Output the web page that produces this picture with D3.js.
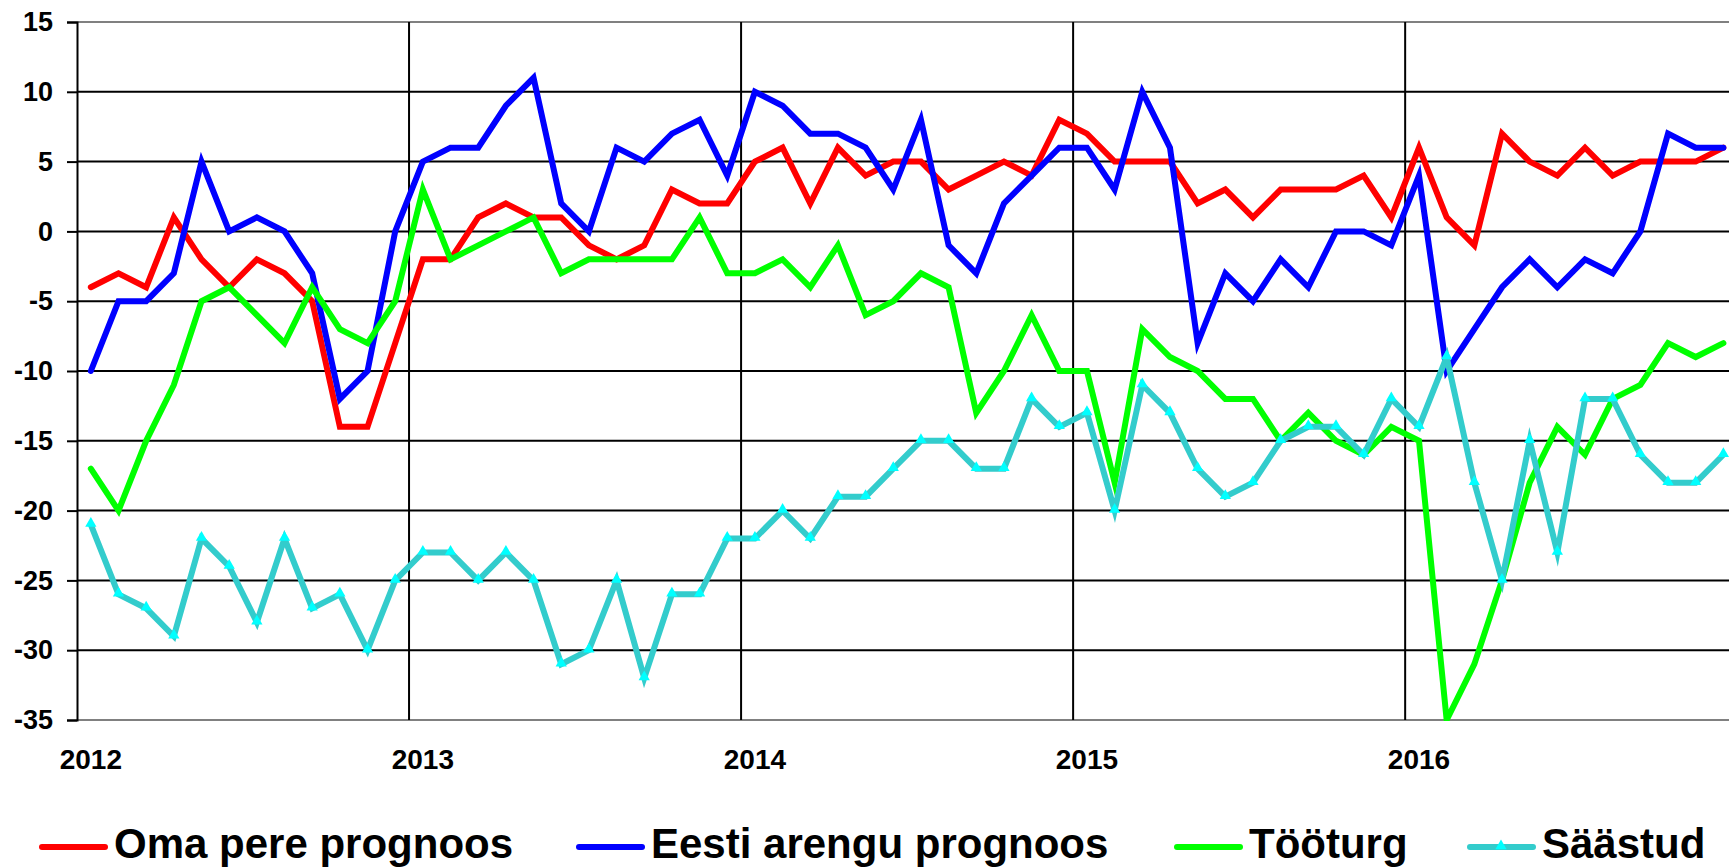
<!DOCTYPE html>
<html>
<head>
<meta charset="utf-8">
<script src="https://cdn.jsdelivr.net/npm/d3@7"></script>
<style>
  html, body { margin: 0; padding: 0; background: #fff; }
  svg { display: block; font-family: Arial, "Liberation Sans", sans-serif; }
</style>
</head>
<body>
<svg id="chart" width="1729" height="868"></svg>
<script>
// survey balances, monthly Jan 2012 .. Dec 2016
const years = ["2012", "2013", "2014", "2015", "2016"];
const yTicks = [15, 10, 5, 0, -5, -10, -15, -20, -25, -30, -35];

const omaPere = [-4, -3, -4, 1, -2, -4, -2, -3, -5, -14, -14, -8,
  -2, -2, 1, 2, 1, 1, -1, -2, -1, 3, 2, 2,
  5, 6, 2, 6, 4, 5, 5, 3, 4, 5, 4, 8,
  7, 5, 5, 5, 2, 3, 1, 3, 3, 3, 4, 1,
  6, 1, -1, 7, 5, 4, 6, 4, 5, 5, 5, 6];

const eestiArengu = [-10, -5, -5, -3, 5, 0, 1, 0, -3, -12, -10, 0,
  5, 6, 6, 9, 11, 2, 0, 6, 5, 7, 8, 4,
  10, 9, 7, 7, 6, 3, 8, -1, -3, 2, 4, 6,
  6, 3, 10, 6, -8, -3, -5, -2, -4, 0, 0, -1,
  4, -10, -7, -4, -2, -4, -2, -3, 0, 7, 6, 6];

const tooturg = [-17, -20, -15, -11, -5, -4, -6, -8, -4, -7, -8, -5,
  3, -2, -1, 0, 1, -3, -2, -2, -2, -2, 1, -3,
  -3, -2, -4, -1, -6, -5, -3, -4, -13, -10, -6, -10,
  -10, -18, -7, -9, -10, -12, -12, -15, -13, -15, -16, -14,
  -15, -35, -31, -25, -18, -14, -16, -12, -11, -8, -9, -8];

const saastud = [-21, -26, -27, -29, -22, -24, -28, -22, -27, -26, -30, -25,
  -23, -23, -25, -23, -25, -31, -30, -25, -32, -26, -26, -22,
  -22, -20, -22, -19, -19, -17, -15, -15, -17, -17, -12, -14,
  -13, -20, -11, -13, -17, -19, -18, -15, -14, -14, -16, -12,
  -14, -9, -18, -25, -15, -23, -12, -12, -16, -18, -18, -16];

const seriesNames = ["Oma pere prognoos", "Eesti arengu prognoos", "Tööturg", "Säästud"];
const seriesColors = ["#ff0000", "#0000ff", "#00ff00", "#33cccc"];

// month categories built from the years
const months = [];
years.forEach(yr => d3.range(12).forEach(m => months.push(yr + "-" + (m + 1))));

const series = [omaPere, eestiArengu, tooturg, saastud].map((values, i) => ({
  name: seriesNames[i],
  color: seriesColors[i],
  values: values
}));

const svg = d3.select("#chart");
const plotLeft = 77, plotTop = 22, plotBottom = 720;
const plotRight = plotLeft + 60 * 27.67;

const x = d3.scaleBand().domain(months).range([plotLeft, plotRight]);
const y = d3.scaleLinear().domain([-35, 15]).range([plotBottom, plotTop]);
const xc = d => x(d) + x.bandwidth() / 2;

// horizontal gridlines
svg.append("g")
  .selectAll("line")
  .data(yTicks)
  .enter().append("line")
  .attr("x1", plotLeft)
  .attr("x2", plotRight)
  .attr("y1", d => y(d))
  .attr("y2", d => y(d))
  .attr("stroke", d => (d === 15 || d === -35) ? "#808080" : "#000")
  .attr("stroke-width", 2);

// year separators
svg.append("g")
  .selectAll("line")
  .data(years.slice(1))
  .enter().append("line")
  .attr("x1", d => x(d + "-1"))
  .attr("x2", d => x(d + "-1"))
  .attr("y1", plotTop)
  .attr("y2", plotBottom)
  .attr("stroke", "#000")
  .attr("stroke-width", 2);

// y axis (plain hyphen for negatives, like the original)
const yAxis = svg.append("g")
  .attr("transform", `translate(${plotLeft},0)`)
  .call(d3.axisLeft(y).tickValues(yTicks).tickSize(10).tickPadding(14)
    .tickFormat(d => String(d)));
yAxis.select(".domain").attr("stroke", "#000").attr("stroke-width", 2);
yAxis.selectAll(".tick line").attr("stroke", "#000").attr("stroke-width", 2);
yAxis.selectAll(".tick text")
  .attr("font-size", 27)
  .attr("font-weight", "bold")
  .attr("font-family", "Arial, 'Liberation Sans', sans-serif")
  .attr("fill", "#000");

// year labels under the first month of each year
svg.append("g")
  .selectAll("text")
  .data(years)
  .enter().append("text")
  .attr("x", d => xc(d + "-1"))
  .attr("y", 769)
  .attr("text-anchor", "middle")
  .attr("font-size", 28)
  .attr("font-weight", "bold")
  .text(d => d);

svg.append("clipPath")
  .attr("id", "plotClip")
  .append("rect")
  .attr("x", plotLeft)
  .attr("y", plotTop - 4)
  .attr("width", plotRight - plotLeft)
  .attr("height", plotBottom - plotTop + 5);

const line = d3.line()
  .x((d, i) => xc(months[i]))
  .y(d => y(d));

const plot = svg.append("g").attr("clip-path", "url(#plotClip)");

plot.selectAll("path.series")
  .data(series)
  .enter().append("path")
  .attr("class", "series")
  .attr("d", d => line(d.values))
  .attr("fill", "none")
  .attr("stroke", d => d.color)
  .attr("stroke-width", 6)
  .attr("stroke-linejoin", "miter")
  .attr("stroke-miterlimit", 10)
  .attr("stroke-linecap", "round");

// triangle markers on Säästud
const tri = d3.symbol().type(d3.symbolTriangle).size(55);
plot.append("g")
  .selectAll("path")
  .data(saastud)
  .enter().append("path")
  .attr("d", tri)
  .attr("transform", (d, i) => `translate(${xc(months[i])},${y(d) - 1})`)
  .attr("fill", "#00ffff");

// legend
const legendX = [42, 579, 1177, 1470];
const legend = svg.append("g")
  .selectAll("g")
  .data(series)
  .enter().append("g")
  .attr("transform", (d, i) => `translate(${legendX[i]},847)`);

legend.append("line")
  .attr("x1", 0)
  .attr("x2", 63)
  .attr("stroke", d => d.color)
  .attr("stroke-width", 6)
  .attr("stroke-linecap", "round");

legend.filter((d, i) => i === 3).append("path")
  .attr("d", tri)
  .attr("transform", "translate(31,-1)")
  .attr("fill", "#00ffff");

legend.append("text")
  .attr("x", 72)
  .attr("y", 11)
  .attr("font-size", 42)
  .attr("font-weight", "bold")
  .text(d => d.name);
</script>
</body>
</html>
